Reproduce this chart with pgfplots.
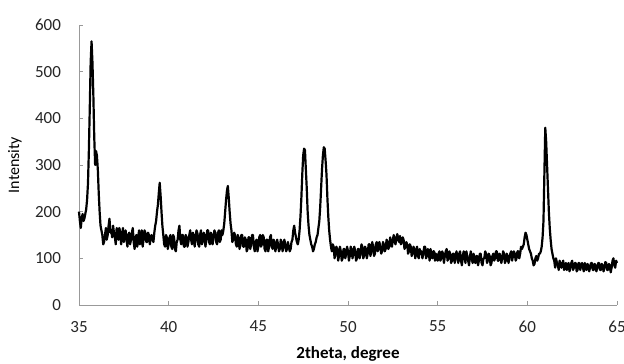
\documentclass[border=0pt]{standalone}
\usepackage{fontspec}
\setmainfont{Carlito}
\usepackage{pgfplots}
\pgfplotsset{compat=1.18}
\pgfplotstableread{
x y
35.0 200
35.05 180
35.1 165
35.15 185
35.2 195
35.25 180
35.3 185
35.35 195
35.4 205
35.45 225
35.5 260
35.55 330
35.6 420
35.65 520
35.7 565
35.75 520
35.8 450
35.85 360
35.9 300
35.95 330
36.0 320
36.05 290
36.1 240
36.15 200
36.2 170
36.25 160
36.3 150
36.35 130
36.4 135
36.45 150
36.5 165
36.55 140
36.6 150
36.65 170
36.7 185
36.75 155
36.8 160
36.85 145
36.9 170
36.95 155
37.0 145
37.05 130
37.1 165
37.15 150
37.2 140
37.25 165
37.3 155
37.35 130
37.4 150
37.45 165
37.5 135
37.55 150
37.6 160
37.65 140
37.7 125
37.75 150
37.8 155
37.85 130
37.9 140
37.95 155
38.0 165
38.05 135
38.1 120
38.15 145
38.2 150
38.25 125
38.3 145
38.35 160
38.4 130
38.45 145
38.5 160
38.55 125
38.6 140
38.65 160
38.7 155
38.75 135
38.8 135
38.85 155
38.9 150
38.95 130
39.0 145
39.05 150
39.1 140
39.15 135
39.2 155
39.25 170
39.3 180
39.35 200
39.4 215
39.45 240
39.5 262
39.55 235
39.6 200
39.65 170
39.7 150
39.75 130
39.8 125
39.85 150
39.9 145
39.95 120
40.0 130
40.05 145
40.1 150
40.15 125
40.2 120
40.25 150
40.3 145
40.35 120
40.4 115
40.45 135
40.5 140
40.55 160
40.6 170
40.65 140
40.7 130
40.75 150
40.8 150
40.85 125
40.9 125
40.95 150
41.0 145
41.05 125
41.1 135
41.15 150
41.2 160
41.25 140
41.3 130
41.35 155
41.4 150
41.45 125
41.5 140
41.55 160
41.6 155
41.65 130
41.7 125
41.75 150
41.8 160
41.85 130
41.9 135
41.95 155
42.0 150
42.05 125
42.1 140
42.15 160
42.2 160
42.25 135
42.3 130
42.35 155
42.4 150
42.45 130
42.5 145
42.55 160
42.6 155
42.65 135
42.7 130
42.75 155
42.8 160
42.85 135
42.9 140
42.95 160
43.0 150
43.05 160
43.1 175
43.15 200
43.2 225
43.25 245
43.3 255
43.35 230
43.4 200
43.45 175
43.5 160
43.55 135
43.6 140
43.65 155
43.7 150
43.75 130
43.8 125
43.85 150
43.9 145
43.95 120
44.0 130
44.05 150
44.1 150
44.15 125
44.2 125
44.25 145
44.3 140
44.35 115
44.4 120
44.45 145
44.5 145
44.55 120
44.6 130
44.65 150
44.7 150
44.75 125
44.8 115
44.85 135
44.9 140
44.95 115
45.0 125
45.05 145
45.1 150
45.15 125
45.2 130
45.25 150
45.3 145
45.35 120
45.4 115
45.45 140
45.5 140
45.55 115
45.6 125
45.65 145
45.7 150
45.75 125
45.8 120
45.85 140
45.9 135
45.95 115
46.0 125
46.05 140
46.1 130
46.15 115
46.2 120
46.25 140
46.3 135
46.35 115
46.4 125
46.45 140
46.5 130
46.55 115
46.6 120
46.65 135
46.7 125
46.75 115
46.8 120
46.85 135
46.9 140
46.95 160
47.0 170
47.05 155
47.1 145
47.15 135
47.2 130
47.25 140
47.3 160
47.35 190
47.4 230
47.45 280
47.5 320
47.55 335
47.6 332
47.65 290
47.7 250
47.75 200
47.8 170
47.85 150
47.9 140
47.95 130
48.0 125
48.05 115
48.1 120
48.15 130
48.2 135
48.25 145
48.3 150
48.35 165
48.4 180
48.45 210
48.5 250
48.55 290
48.6 320
48.65 338
48.7 335
48.75 310
48.8 280
48.85 230
48.9 190
48.95 160
49.0 140
49.05 125
49.1 115
49.15 130
49.2 125
49.25 100
49.3 110
49.35 125
49.4 120
49.45 95
49.5 105
49.55 125
49.6 115
49.65 95
49.7 100
49.75 120
49.8 120
49.85 100
49.9 110
49.95 125
50.0 115
50.05 95
50.1 105
50.15 125
50.2 120
50.25 100
50.3 110
50.35 125
50.4 115
50.45 95
50.5 100
50.55 120
50.6 120
50.65 100
50.7 110
50.75 130
50.8 125
50.85 100
50.9 105
50.95 125
51.0 120
51.05 100
51.1 110
51.15 130
51.2 130
51.25 105
51.3 115
51.35 135
51.4 125
51.45 105
51.5 110
51.55 130
51.6 135
51.65 115
51.7 120
51.75 135
51.8 125
51.85 110
51.9 115
51.95 135
52.0 130
52.05 115
52.1 120
52.15 140
52.2 135
52.25 120
52.3 125
52.35 145
52.4 130
52.45 125
52.5 140
52.55 150
52.6 135
52.65 130
52.7 145
52.75 152
52.8 140
52.85 135
52.9 148
52.95 130
53.0 135
53.05 145
53.1 140
53.15 120
53.2 125
53.25 135
53.3 130
53.35 110
53.4 115
53.45 130
53.5 125
53.55 105
53.6 110
53.65 125
53.7 120
53.75 100
53.8 115
53.85 125
53.9 105
53.95 100
54.0 120
54.05 110
54.1 115
54.15 100
54.2 110
54.25 125
54.3 125
54.35 100
54.4 105
54.45 120
54.5 115
54.55 95
54.6 120
54.65 110
54.7 100
54.75 115
54.8 115
54.85 95
54.9 110
54.95 100
55.0 95
55.05 110
55.1 115
55.15 95
55.2 100
55.25 115
55.3 110
55.35 90
55.4 105
55.45 115
55.5 120
55.55 95
55.6 100
55.65 115
55.7 110
55.75 90
55.8 95
55.85 110
55.9 110
55.95 90
56.0 105
56.05 115
56.1 100
56.15 90
56.2 110
56.25 115
56.3 95
56.35 85
56.4 105
56.45 115
56.5 100
56.55 90
56.6 115
56.65 105
56.7 95
56.75 85
56.8 105
56.85 115
56.9 100
56.95 90
57.0 110
57.05 100
57.1 90
57.15 105
57.2 105
57.25 85
57.3 95
57.35 110
57.4 110
57.45 90
57.5 85
57.55 100
57.6 100
57.65 115
57.7 110
57.75 90
57.8 95
57.85 110
57.9 105
57.95 85
58.0 90
58.05 105
58.1 110
58.15 95
58.2 100
58.25 115
58.3 115
58.35 95
58.4 95
58.45 110
58.5 105
58.55 90
58.6 100
58.65 115
58.7 110
58.75 90
58.8 95
58.85 110
58.9 105
58.95 90
59.0 100
59.05 110
59.1 115
59.15 95
59.2 105
59.25 115
59.3 110
59.35 95
59.4 100
59.45 115
59.5 115
59.55 100
59.6 110
59.65 125
59.7 120
59.75 125
59.8 130
59.85 145
59.9 155
59.95 150
60.0 140
60.05 130
60.1 120
60.15 115
60.2 110
60.25 100
60.3 95
60.35 85
60.4 88
60.45 100
60.5 105
60.55 95
60.6 100
60.65 110
60.7 110
60.75 115
60.8 125
60.85 145
60.9 180
60.95 280
61.0 380
61.05 350
61.1 300
61.15 250
61.2 200
61.25 165
61.3 140
61.35 120
61.4 110
61.45 100
61.5 95
61.55 80
61.6 100
61.65 90
61.7 85
61.75 75
61.8 95
61.85 85
61.9 80
61.95 90
62.0 95
62.05 75
62.1 85
62.15 90
62.2 75
62.25 85
62.3 90
62.35 72
62.4 80
62.45 90
62.5 95
62.55 75
62.6 80
62.65 90
62.7 90
62.75 72
62.8 75
62.85 90
62.9 90
62.95 75
63.0 85
63.05 90
63.1 80
63.15 72
63.2 90
63.25 85
63.3 75
63.35 88
63.4 85
63.45 72
63.5 80
63.55 90
63.6 90
63.65 75
63.7 75
63.75 88
63.8 85
63.85 72
63.9 80
63.95 90
64.0 90
64.05 75
64.1 75
64.15 88
64.2 85
64.25 72
64.3 80
64.35 92
64.4 90
64.45 75
64.5 75
64.55 88
64.6 85
64.65 70
64.7 80
64.75 95
64.8 100
64.85 85
64.9 80
64.95 95
65.0 90
}\xrd
\begin{document}
\begin{tikzpicture}
\useasboundingbox (0,0) rectangle (312pt,181.5pt);
\begin{axis}[
  at={(39.5pt,29pt)}, anchor=south west,
  scale only axis, width=269pt, height=140pt,
  xmin=35, xmax=65, ymin=0, ymax=600,
  xtick={35,40,...,65}, ytick={0,100,...,600},
  axis lines=left, axis line style={-, gray!80},
  tick style={gray!80}, major tick length=2pt, tick align=inside,
  /pgf/number format/assume math mode=true,
  tick label style={font=\fontsize{8.5}{10}\selectfont, text=black!85},
  yticklabel style={xshift=-5.5pt},
  xticklabel style={yshift=-4.5pt},
  xlabel={\textbf{2theta, degree}},
  ylabel={Intensity},
  xlabel style={font=\fontsize{8.5}{10}\selectfont, at={(axis description cs:0.5,-0.175)}, anchor=center},
  ylabel style={font=\fontsize{8}{10}\selectfont, at={(axis description cs:-0.119,0.5)}, anchor=center},
  clip=false,
]
\addplot[black, line width=1.1pt, line join=round] table[x=x,y=y] {\xrd};
\end{axis}
\end{tikzpicture}
\end{document}
